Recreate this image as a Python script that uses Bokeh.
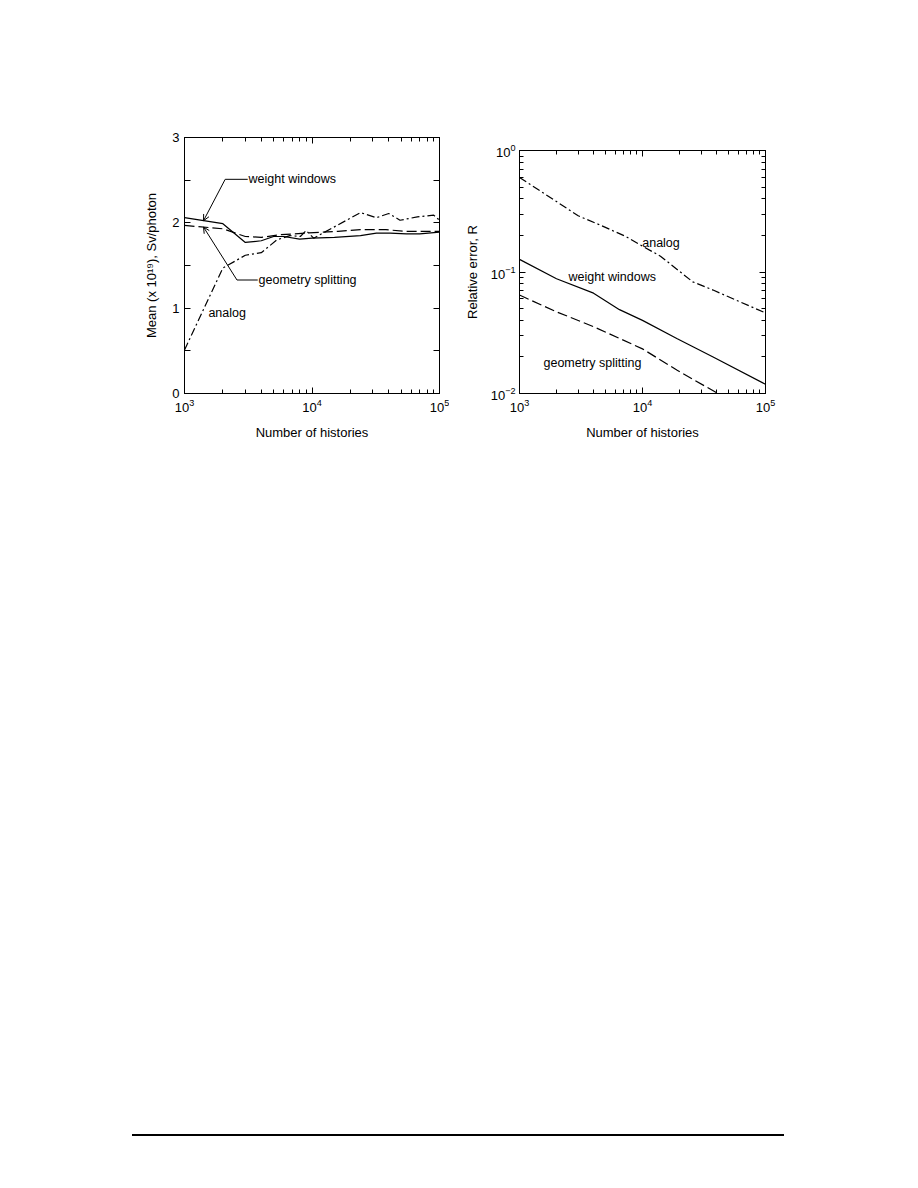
from bokeh.plotting import figure
from bokeh.models import (LogAxis, LinearAxis, FixedTicker, LogTickFormatter,
                          CustomJSTickFormatter, Label, Arrow, OpenHead, Div, Spacer)
from bokeh.layouts import row, column
from bokeh.embed import file_html
from bokeh.resources import INLINE
import numpy as np

# ---------------- data: left panel (mean) ----------------
ww_mean_x = [1000, 2000, 3000, 4000, 5000, 6000, 8000, 10000, 15000, 24000, 32000, 41000, 55000, 70000, 100000]
ww_mean_y = [2.06, 1.99, 1.77, 1.79, 1.84, 1.84, 1.81, 1.82, 1.83, 1.85, 1.88, 1.88, 1.87, 1.87, 1.89]

gs_mean_x = [1000, 2000, 3000, 4000, 5600, 9000, 16000, 24000, 38000, 55000, 100000]
gs_mean_y = [1.97, 1.93, 1.84, 1.83, 1.86, 1.88, 1.90, 1.92, 1.92, 1.90, 1.90]

an_mean_x = [1000, 2000, 3000, 4000, 5300, 6700, 8100, 9000, 10300, 24000, 32000, 40000, 49000, 67000, 90000, 100000]
an_mean_y = [0.51, 1.47, 1.62, 1.65, 1.80, 1.85, 1.84, 1.91, 1.82, 2.12, 2.06, 2.11, 2.03, 2.07, 2.09, 2.03]

# ---------------- data: right panel (relative error) ----------------
an_err_x = [1000, 2000, 3000, 4500, 7400, 10000, 14000, 25600, 37500, 100000]
an_err_y = [0.60, 0.38, 0.29, 0.244, 0.195, 0.163, 0.135, 0.083, 0.071, 0.046]

ww_err_x = [1000, 2000, 4000, 6500, 10000, 19000, 37500, 100000]
ww_err_y = [0.127, 0.088, 0.067, 0.049, 0.040, 0.0284, 0.020, 0.0119]

gs_err_x = [1000, 2000, 4000, 6500, 10000, 19000, 41000, 45000]
gs_err_y = [0.0646, 0.047, 0.0355, 0.0284, 0.0233, 0.0156, 0.0100, 0.0096]

# tick labels / values
x_major = [1e3, 1e4, 1e5]
x_minor = [m * d for d in (1e3, 1e4) for m in range(2, 10)]
y1_major = [0, 1, 2, 3]
y1_minor = [0.5, 1.5, 2.5]
y2_major = [1e-2, 1e-1, 1e0]
y2_minor = [m * d for d in (1e-2, 1e-1) for m in range(2, 10)]

FONT = "Liberation Sans"
TICK_FS = "13px"
LABEL_FS = "13px"
ANN_FS = "12.5px"

DASH = "10 4"
DASHDOT = "8 3 2 3"


def style_axis(ax, label=True):
    ax.major_tick_in = 6
    ax.major_tick_out = 0
    ax.minor_tick_in = 4
    ax.minor_tick_out = 0
    ax.axis_line_color = "black"
    ax.major_tick_line_color = "black"
    ax.minor_tick_line_color = "black"
    ax.major_label_text_font = FONT
    ax.major_label_text_font_size = TICK_FS
    ax.major_label_text_color = "black"
    ax.major_label_standoff = 5
    ax.axis_label_text_font = FONT
    ax.axis_label_text_font_size = LABEL_FS
    ax.axis_label_text_font_style = "normal"
    ax.axis_label_text_color = "black"
    ax.axis_label_standoff = 10
    if not label:
        ax.formatter = CustomJSTickFormatter(code="return ''")
        ax.major_label_standoff = 0


def make_fig(y_type, y_range, fw, fh, left, top, right, bottom):
    p = figure(x_axis_type="log", y_axis_type=y_type, x_range=(1e3, 1e5), y_range=y_range,
               frame_width=fw, frame_height=fh,
               min_border_left=left, min_border_top=top, min_border_right=right,
               min_border_bottom=bottom, output_backend="svg", toolbar_location=None)
    p.grid.visible = False
    p.outline_line_color = "black"
    p.background_fill_color = "white"
    p.border_fill_color = "white"
    return p


# ---------------- left panel ----------------
p1 = make_fig("linear", (0, 3), 255, 256, 184, 137, 10, 60)
p1.xaxis.ticker = FixedTicker(ticks=x_major, minor_ticks=x_minor)
p1.xaxis.formatter = LogTickFormatter()
p1.yaxis.ticker = FixedTicker(ticks=y1_major, minor_ticks=y1_minor)
p1.xaxis.axis_label = "Number of histories"
p1.yaxis.axis_label = "Mean (x 10\u00b9\u2079), Sv/photon"
style_axis(p1.xaxis[0])
style_axis(p1.yaxis[0])
p1.yaxis[0].minor_tick_in = 6
top1 = LogAxis(ticker=FixedTicker(ticks=x_major, minor_ticks=x_minor))
right1 = LinearAxis(ticker=FixedTicker(ticks=y1_major, minor_ticks=y1_minor))
style_axis(top1, label=False)
style_axis(right1, label=False)
right1.minor_tick_in = 6
p1.add_layout(top1, "above")
p1.add_layout(right1, "right")

p1.line(ww_mean_x, ww_mean_y, line_color="black", line_width=1.2)
p1.line(gs_mean_x, gs_mean_y, line_color="black", line_width=1.2, line_dash=DASH)
p1.line(an_mean_x, an_mean_y, line_color="black", line_width=1.2, line_dash=DASHDOT)

# annotations (left)
tip_x = 1410
ww_tip_y = float(np.interp(np.log10(tip_x), np.log10(ww_mean_x), ww_mean_y))
gs_tip_y = float(np.interp(np.log10(tip_x), np.log10(gs_mean_x), gs_mean_y))
ww_lbl = dict(elbow_x=2085, text_x=3180, y=2.51)
gs_lbl = dict(elbow_x=2580, text_x=3810, y=1.33)

for lbl, ty, txt in ((ww_lbl, ww_tip_y, "weight windows"), (gs_lbl, gs_tip_y, "geometry splitting")):
    p1.line([lbl["text_x"] * 0.985, lbl["elbow_x"]], [lbl["y"], lbl["y"]], line_color="black", line_width=1)
    p1.add_layout(Arrow(x_start=lbl["elbow_x"], y_start=lbl["y"], x_end=tip_x, y_end=ty,
                        end=OpenHead(size=6, line_width=1, line_color="black"),
                        line_width=1, line_color="black"))
    p1.add_layout(Label(x=lbl["text_x"], y=lbl["y"], text=txt, text_baseline="middle",
                        text_align="left", text_font=FONT, text_font_size=ANN_FS,
                        text_color="black"))
p1.add_layout(Label(x=1540, y=0.945, text="analog", text_baseline="middle", text_align="left",
                    text_font=FONT, text_font_size=ANN_FS, text_color="black"))

# ---------------- right panel ----------------
p2 = make_fig("log", (1e-2, 1e0), 246, 243, 70, 137, 20, 60)
p2.xaxis.ticker = FixedTicker(ticks=x_major, minor_ticks=x_minor)
p2.xaxis.formatter = LogTickFormatter()
p2.yaxis.ticker = FixedTicker(ticks=y2_major, minor_ticks=y2_minor)
p2.yaxis.formatter = LogTickFormatter()
p2.xaxis.axis_label = "Number of histories"
p2.yaxis.axis_label = "Relative error, R"
style_axis(p2.xaxis[0])
style_axis(p2.yaxis[0])
p2.yaxis[0].major_label_standoff = 4
p2.yaxis[0].axis_label_standoff = 8
top2 = LogAxis(ticker=FixedTicker(ticks=x_major, minor_ticks=x_minor))
right2 = LogAxis(ticker=FixedTicker(ticks=y2_major, minor_ticks=y2_minor))
style_axis(top2, label=False)
style_axis(right2, label=False)
p2.add_layout(top2, "above")
p2.add_layout(right2, "right")

p2.line(an_err_x, an_err_y, line_color="black", line_width=1.2, line_dash=DASHDOT)
p2.line(ww_err_x, ww_err_y, line_color="black", line_width=1.2)
p2.line(gs_err_x, gs_err_y, line_color="black", line_width=1.2, line_dash=DASH)

for x, y, txt in ((9950, 0.173, "analog"), (2500, 0.0918, "weight windows"), (1567, 0.0177, "geometry splitting")):
    p2.add_layout(Label(x=x, y=y, text=txt, text_baseline="middle", text_align="left",
                        text_font=FONT, text_font_size=ANN_FS, text_color="black"))

# ---------------- page ----------------
rule = Div(text="", width=652, height=2, styles={"background-color": "black"})
page = column(row(p1, column(Spacer(height=13), p2)), Spacer(height=676),
              row(Spacer(width=127), rule))

open("out.html", "w").write(file_html(page, INLINE))
